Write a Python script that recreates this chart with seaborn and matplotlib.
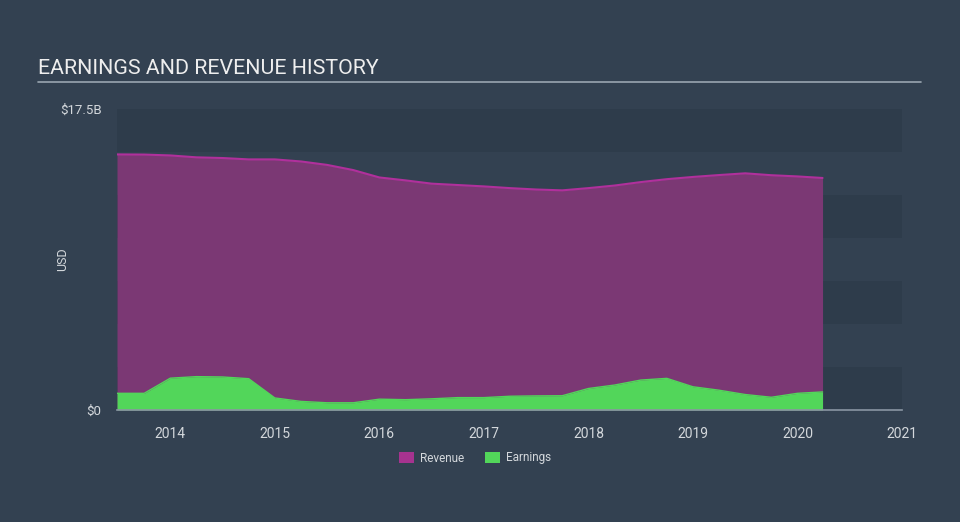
import numpy as np
import pandas as pd
import seaborn as sns
import matplotlib
matplotlib.use("Agg")
import matplotlib.pyplot as plt
from matplotlib.patches import Patch

# ---- data (USD billions) ----
periods = [2013.49, 2013.75, 2014.0, 2014.25, 2014.5, 2014.75, 2015.0, 2015.25,
           2015.5, 2015.75, 2016.0, 2016.25, 2016.5, 2016.75, 2017.0, 2017.25,
           2017.5, 2017.75, 2018.0, 2018.25, 2018.5, 2018.75, 2019.0, 2019.25,
           2019.5, 2019.75, 2020.0, 2020.24]
revenue = [14.86, 14.85, 14.80, 14.69, 14.65, 14.57, 14.57, 14.45,
           14.25, 13.95, 13.52, 13.35, 13.16, 13.08, 13.00, 12.90,
           12.82, 12.77, 12.90, 13.05, 13.25, 13.42, 13.55, 13.66,
           13.76, 13.65, 13.58, 13.49]
earnings = [0.97, 0.97, 1.85, 1.94, 1.92, 1.82, 0.70, 0.50,
            0.42, 0.42, 0.63, 0.60, 0.65, 0.72, 0.72, 0.80,
            0.82, 0.83, 1.25, 1.45, 1.74, 1.84, 1.35, 1.15,
            0.90, 0.74, 0.97, 1.05]
year_ticks = [2014, 2015, 2016, 2017, 2018, 2019, 2020, 2021]
y_tick_vals = [0, 17.5]
y_tick_labels = ["$0", "$17.5B"]

df = pd.DataFrame({"period": periods, "Revenue": revenue, "Earnings": earnings})

BG = "#334151"
DARK = "#2e3c4b"
TEXT = "#d4d8dc"
REV_FILL = "#7b3874"
REV_LINE = "#b0309c"
EARN = "#52d65a"

sns.set_theme(style="dark")
plt.rcParams["font.family"] = ["Roboto", "DejaVu Sans"]

fig = plt.figure(figsize=(9.6, 5.22), dpi=100, facecolor=BG)
ax = fig.add_axes([117 / 960, 1 - 410 / 522, 785 / 960, 301 / 522])
ax.set_facecolor(BG)

# stripes
for lo in [0, 5, 10, 15]:
    ax.axhspan(lo, lo + 2.5, color=DARK, zorder=0, lw=0)

ax.fill_between(df["period"], 0, df["Revenue"], color=REV_FILL, lw=0, zorder=2)
sns.lineplot(data=df, x="period", y="Revenue", ax=ax, color=REV_LINE, lw=1.5, zorder=3)
ax.fill_between(df["period"], 0, df["Earnings"], color=EARN, lw=0, zorder=4)
sns.lineplot(data=df, x="period", y="Earnings", ax=ax, color=EARN, lw=1, zorder=4)

ax.set_xlim(2013.49, 2021.0)
ax.set_ylim(0, 17.5)
ax.set_xticks(year_ticks)
ax.set_xticklabels([str(y) for y in year_ticks], color=TEXT, fontsize=10)
ax.set_yticks(y_tick_vals)
ax.set_yticklabels(y_tick_labels, color=TEXT, fontsize=9.5)
ax.tick_params(axis="x", length=8, width=1, color="#8a96a3", pad=4, direction="out")
ax.tick_params(axis="y", length=0, pad=11)
ax.set_xlabel("")
ax.set_ylabel("USD", color=TEXT, fontsize=9)
ax.yaxis.set_label_coords((69 - 117) / 785, 0.5)
ax.grid(False)
for s in ["top", "right", "left"]:
    ax.spines[s].set_visible(False)
ax.spines["bottom"].set_color("#8a96a3")
ax.spines["bottom"].set_linewidth(1.2)
ax.spines["bottom"].set_zorder(6)

# title and underline
fig.text(38 / 960, 1 - 69 / 522, "EARNINGS AND REVENUE HISTORY", color="#eeeeee",
         fontsize=15.4, ha="left", va="center")
fig.add_artist(plt.Line2D([38 / 960, 921 / 960], [1 - 81.5 / 522, 1 - 81.5 / 522],
                          color="#9aa5b0", lw=1.2))

# legend
handles = [Patch(facecolor="#a6338f", edgecolor="none", label="Revenue"),
           Patch(facecolor=EARN, edgecolor="none", label="Earnings")]
leg = fig.legend(handles=handles, loc="center", bbox_to_anchor=(475 / 960, 1 - 458 / 522),
                 ncol=2, frameon=False, fontsize=8.5, handlelength=1.3, handleheight=1.0,
                 columnspacing=1.8, handletextpad=0.5)
for t in leg.get_texts():
    t.set_color(TEXT)

fig.savefig("out.png", dpi=100, facecolor=BG)
